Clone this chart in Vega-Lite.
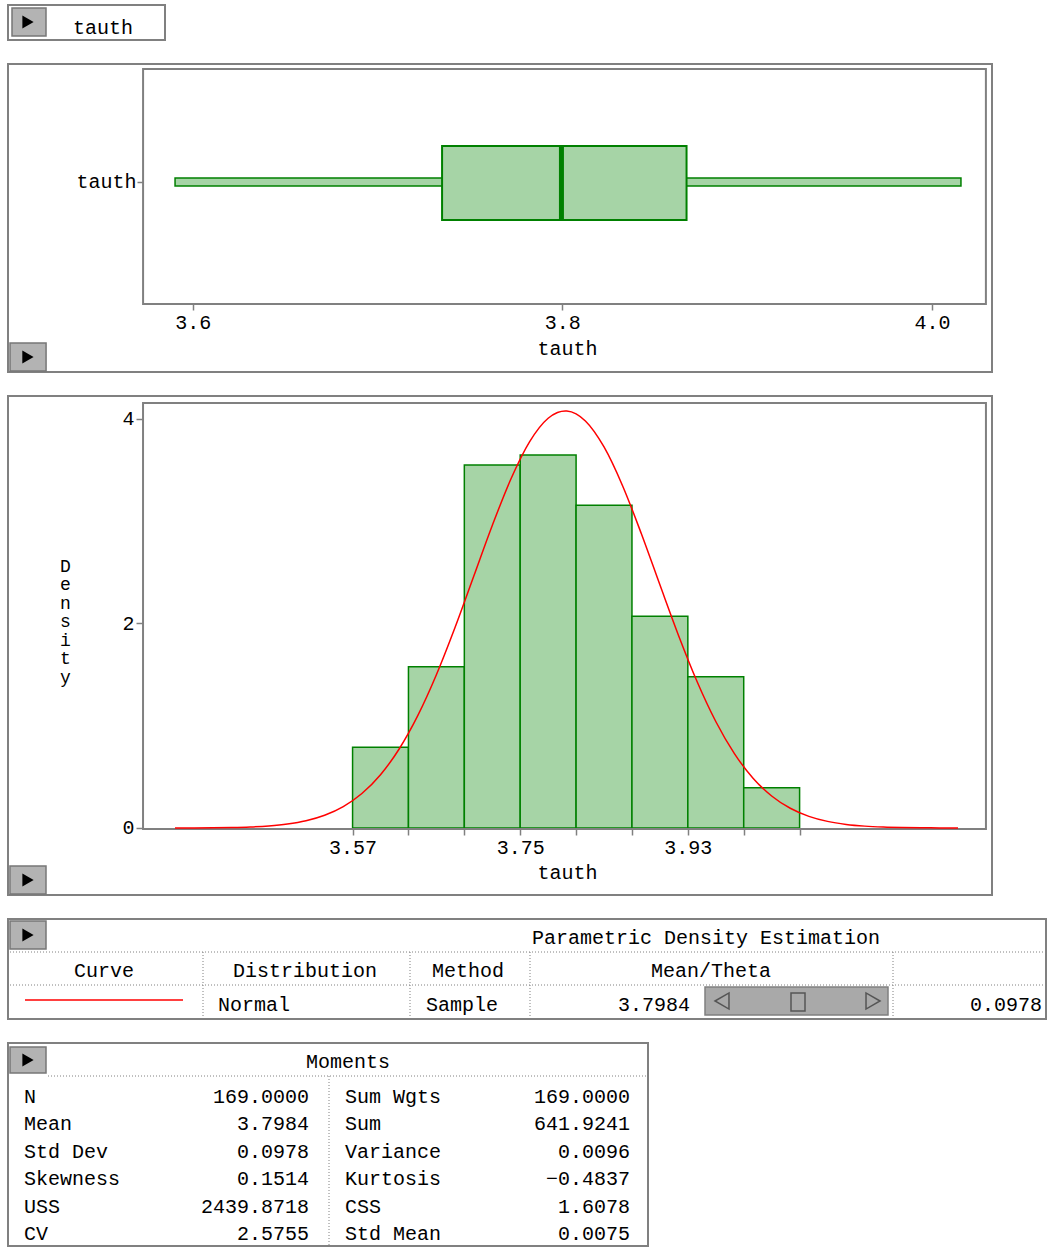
{
  "$schema": "https://vega.github.io/schema/vega-lite/v6.json",
  "background": "white",
  "padding": {"left": 7, "top": 4, "right": 0, "bottom": 0},
  "bounds": "flush",
  "spacing": 24,
  "config": {
    "view": {"stroke": "#808080", "strokeWidth": 2},
    "text": {"font": "Liberation Mono", "fontSize": 20, "color": "black"},
    "axis": {"labelFont": "Liberation Mono", "titleFont": "Liberation Mono", "labelFontSize": 20, "titleFontSize": 20, "titleFontWeight": "normal", "labelColor": "black", "titleColor": "black", "tickColor": "#808080", "tickWidth": 1.5, "domain": false, "grid": false, "labelFlush": false, "labelOverlap": false}
  },
  "vconcat": [
    {
      "width": 157, "height": 35,
      "data": {"values": [{"name": "tauth"}]},
      "layer": [
        {"mark": {"type": "rect", "fill": "#b3b3b3", "stroke": "#777777", "strokeWidth": 1.5},
         "encoding": {
           "x": {"datum": 4, "type": "quantitative", "scale": {"domain": [0, 157], "nice": false, "zero": false}, "axis": null},
           "x2": {"datum": 38},
           "y": {"datum": 3, "type": "quantitative", "scale": {"domain": [0, 35], "reverse": true, "nice": false, "zero": false}, "axis": null},
           "y2": {"datum": 31}}},
        {"mark": {"type": "point", "shape": "triangle-right", "filled": true, "color": "black", "opacity": 1, "size": 170},
         "encoding": {"x": {"datum": 20, "type": "quantitative", "axis": null}, "y": {"datum": 17, "type": "quantitative", "axis": null}}},
        {"mark": {"type": "text", "align": "center", "baseline": "alphabetic"},
         "encoding": {"text": {"field": "name"}, "x": {"datum": 95, "type": "quantitative", "axis": null}, "y": {"datum": 29, "type": "quantitative", "axis": null}}}
      ]
    },
    {
      "width": 984, "height": 308,
      "data": {"values": [{"variable": "tauth", "min": 3.5904, "q1": 3.7349, "median": 3.7995, "q3": 3.8672, "max": 4.0157}]},
      "layer": [
        {"mark": {"type": "rect", "fill": "#a6d4a6", "stroke": "#008000", "strokeWidth": 1.5},
         "encoding": {
           "x": {"field": "min", "type": "quantitative", "scale": {"domain": [3.5, 4.0325], "nice": false, "zero": false},
                 "axis": {"orient": "bottom", "offset": -68, "values": [3.6, 3.8, 4.0], "format": ".1f", "tickSize": 6, "labelPadding": 2, "title": "tauth", "titleX": 559, "titleY": 44, "titleBaseline": "middle", "titleAlign": "center"}},
           "x2": {"field": "max"},
           "y": {"datum": 0.6039, "type": "quantitative", "scale": {"domain": [0, 1], "nice": false, "zero": false},
                 "axis": {"orient": "left", "offset": -135, "values": [0.617], "labelExpr": "'tauth'", "tickSize": 6, "labelPadding": 1, "title": null}},
           "y2": {"datum": 0.6299}}},
        {"mark": {"type": "rect", "fill": "#a6d4a6", "stroke": "#008000", "strokeWidth": 2},
         "encoding": {
           "x": {"field": "q1", "type": "quantitative"},
           "x2": {"field": "q3"},
           "y": {"datum": 0.4935, "type": "quantitative"},
           "y2": {"datum": 0.7338}}},
        {"mark": {"type": "rule", "color": "#008000", "strokeWidth": 5},
         "encoding": {
           "x": {"field": "median", "type": "quantitative"},
           "y": {"datum": 0.4935, "type": "quantitative"},
           "y2": {"datum": 0.7338}}},
        {"mark": {"type": "rect", "fill": "transparent", "stroke": "#808080", "strokeWidth": 2},
         "encoding": {
           "x": {"datum": 3.5731, "type": "quantitative"},
           "x2": {"datum": 4.0292},
           "y": {"datum": 0.2208, "type": "quantitative"},
           "y2": {"datum": 0.9838}}},
        {"mark": {"type": "rect", "fill": "#b3b3b3", "stroke": "#777777", "strokeWidth": 1.5},
         "encoding": {
           "x": {"datum": 3.5011, "type": "quantitative"},
           "x2": {"datum": 3.5206},
           "y": {"datum": 0.003, "type": "quantitative"},
           "y2": {"datum": 0.094}}},
        {"mark": {"type": "point", "shape": "triangle-right", "filled": true, "color": "black", "opacity": 1, "size": 170},
         "encoding": {"x": {"datum": 3.5108, "type": "quantitative"}, "y": {"datum": 0.0487, "type": "quantitative"}}}
      ]
    },
    {
      "width": 984, "height": 499,
      "layer": [
        {"data": {"values": [
           {"bin_start": 3.57, "bin_end": 3.63, "density": 0.789},
           {"bin_start": 3.63, "bin_end": 3.69, "density": 1.578},
           {"bin_start": 3.69, "bin_end": 3.75, "density": 3.550},
           {"bin_start": 3.75, "bin_end": 3.81, "density": 3.649},
           {"bin_start": 3.81, "bin_end": 3.87, "density": 3.156},
           {"bin_start": 3.87, "bin_end": 3.93, "density": 2.071},
           {"bin_start": 3.93, "bin_end": 3.99, "density": 1.479},
           {"bin_start": 3.99, "bin_end": 4.05, "density": 0.394}]},
         "mark": {"type": "rect", "fill": "#a6d4a6", "stroke": "#008000", "strokeWidth": 1.5},
         "encoding": {
           "x": {"field": "bin_start", "type": "quantitative", "scale": {"domain": [3.2, 4.2566], "nice": false, "zero": false},
                 "axis": {"orient": "bottom", "offset": -66, "values": [3.57, 3.63, 3.69, 3.75, 3.81, 3.87, 3.93, 3.99, 4.05], "labelExpr": "(abs(datum.value-3.57)<0.001 || abs(datum.value-3.75)<0.001 || abs(datum.value-3.93)<0.001) ? format(datum.value,'.2f') : ''", "tickSize": 6, "labelPadding": 2, "title": "tauth", "titleX": 559, "titleY": 43, "titleBaseline": "middle", "titleAlign": "center"}},
           "x2": {"field": "bin_end"},
           "y": {"field": "density", "type": "quantitative", "scale": {"domain": [-0.6553, 4.2249], "nice": false, "zero": false},
                 "axis": {"orient": "left", "offset": -135, "values": [0, 2, 4], "format": "d", "tickSize": 7, "labelPadding": 2, "title": ["D", "e", "n", "s", "i", "t", "y"], "titleAngle": 0, "titleX": -78, "titleY": 170, "titleAlign": "center", "titleBaseline": "middle", "titleFontSize": 18, "titleLineHeight": 18.5}},
           "y2": {"datum": 0}}},
        {"data": {"values": [{}]},
         "mark": {"type": "rect", "fill": "transparent", "stroke": "#808080", "strokeWidth": 2},
         "encoding": {
           "x": {"datum": 3.345, "type": "quantitative"},
           "x2": {"datum": 4.2501},
           "y": {"datum": -0.01, "type": "quantitative"},
           "y2": {"datum": 4.156}}},
        {"data": {"values": [
           {"x": 3.3793, "pdf": 0.0004}, {"x": 3.40, "pdf": 0.0010}, {"x": 3.42, "pdf": 0.0023}, {"x": 3.44, "pdf": 0.0049},
           {"x": 3.46, "pdf": 0.0103}, {"x": 3.48, "pdf": 0.0204}, {"x": 3.50, "pdf": 0.0388}, {"x": 3.52, "pdf": 0.0709},
           {"x": 3.54, "pdf": 0.1244}, {"x": 3.56, "pdf": 0.2091}, {"x": 3.58, "pdf": 0.3371}, {"x": 3.60, "pdf": 0.5212},
           {"x": 3.62, "pdf": 0.7728}, {"x": 3.64, "pdf": 1.0989}, {"x": 3.66, "pdf": 1.4988}, {"x": 3.68, "pdf": 1.9603},
           {"x": 3.70, "pdf": 2.4591}, {"x": 3.72, "pdf": 2.9583}, {"x": 3.74, "pdf": 3.4131}, {"x": 3.76, "pdf": 3.7766},
           {"x": 3.78, "pdf": 4.0076}, {"x": 3.79, "pdf": 4.0642}, {"x": 3.7984, "pdf": 4.0792}, {"x": 3.80, "pdf": 4.0786},
           {"x": 3.81, "pdf": 4.0506}, {"x": 3.82, "pdf": 3.9809}, {"x": 3.84, "pdf": 3.7264}, {"x": 3.86, "pdf": 3.3452},
           {"x": 3.88, "pdf": 2.8802}, {"x": 3.90, "pdf": 2.3781}, {"x": 3.92, "pdf": 1.8831}, {"x": 3.94, "pdf": 1.4302},
           {"x": 3.96, "pdf": 1.0417}, {"x": 3.98, "pdf": 0.7276}, {"x": 4.00, "pdf": 0.4873}, {"x": 4.02, "pdf": 0.3132},
           {"x": 4.04, "pdf": 0.1929}, {"x": 4.06, "pdf": 0.1140}, {"x": 4.08, "pdf": 0.0646}, {"x": 4.10, "pdf": 0.0351},
           {"x": 4.12, "pdf": 0.0183}, {"x": 4.14, "pdf": 0.0092}, {"x": 4.16, "pdf": 0.0044}, {"x": 4.18, "pdf": 0.0020},
           {"x": 4.20, "pdf": 0.0009}, {"x": 4.2201, "pdf": 0.0004}]},
         "mark": {"type": "line", "color": "#ff0000", "strokeWidth": 1.5, "interpolate": "monotone"},
         "encoding": {
           "x": {"field": "x", "type": "quantitative"},
           "y": {"field": "pdf", "type": "quantitative"}}},
        {"data": {"values": [{}]},
         "mark": {"type": "rect", "fill": "#b3b3b3", "stroke": "#777777", "strokeWidth": 1.5},
         "encoding": {
           "x": {"datum": 3.2021, "type": "quantitative"},
           "x2": {"datum": 3.2408},
           "y": {"datum": -0.6455, "type": "quantitative"},
           "y2": {"datum": -0.3716}}},
        {"data": {"values": [{}]},
         "mark": {"type": "point", "shape": "triangle-right", "filled": true, "color": "black", "opacity": 1, "size": 170},
         "encoding": {"x": {"datum": 3.2215, "type": "quantitative"}, "y": {"datum": -0.5086, "type": "quantitative"}}}
      ]
    },
    {
      "width": 1038, "height": 100,
      "data": {"values": [{}]},
      "layer": [
        {"mark": {"type": "rect", "fill": "#b3b3b3", "stroke": "#777777", "strokeWidth": 1.5},
         "encoding": {
           "x": {"datum": 2, "type": "quantitative", "scale": {"domain": [0, 1038], "nice": false, "zero": false}, "axis": null},
           "x2": {"datum": 38},
           "y": {"datum": 2, "type": "quantitative", "scale": {"domain": [0, 100], "reverse": true, "nice": false, "zero": false}, "axis": null},
           "y2": {"datum": 30}}},
        {"mark": {"type": "point", "shape": "triangle-right", "filled": true, "color": "black", "opacity": 1, "size": 170},
         "encoding": {"x": {"datum": 20, "type": "quantitative", "axis": null}, "y": {"datum": 16, "type": "quantitative", "axis": null}}},
        {"mark": {"type": "text", "align": "left", "baseline": "alphabetic", "text": "Parametric Density Estimation"},
         "encoding": {"x": {"datum": 524, "type": "quantitative", "axis": null}, "y": {"datum": 25, "type": "quantitative", "axis": null}}},
        {"mark": {"type": "rule", "color": "#808080", "strokeWidth": 1, "strokeDash": [1, 2]},
         "encoding": {"x": {"datum": 2, "type": "quantitative", "axis": null}, "x2": {"datum": 1038}, "y": {"datum": 33, "type": "quantitative", "axis": null}}},
        {"mark": {"type": "rule", "color": "#808080", "strokeWidth": 1, "strokeDash": [1, 2]},
         "encoding": {"x": {"datum": 2, "type": "quantitative", "axis": null}, "x2": {"datum": 1038}, "y": {"datum": 66, "type": "quantitative", "axis": null}}},
        {"mark": {"type": "rule", "color": "#808080", "strokeWidth": 1, "strokeDash": [1, 2]},
         "encoding": {"x": {"datum": 195, "type": "quantitative", "axis": null}, "y": {"datum": 33, "type": "quantitative", "axis": null}, "y2": {"datum": 100}}},
        {"mark": {"type": "rule", "color": "#808080", "strokeWidth": 1, "strokeDash": [1, 2]},
         "encoding": {"x": {"datum": 402, "type": "quantitative", "axis": null}, "y": {"datum": 33, "type": "quantitative", "axis": null}, "y2": {"datum": 100}}},
        {"mark": {"type": "rule", "color": "#808080", "strokeWidth": 1, "strokeDash": [1, 2]},
         "encoding": {"x": {"datum": 522, "type": "quantitative", "axis": null}, "y": {"datum": 33, "type": "quantitative", "axis": null}, "y2": {"datum": 100}}},
        {"mark": {"type": "rule", "color": "#808080", "strokeWidth": 1, "strokeDash": [1, 2]},
         "encoding": {"x": {"datum": 885, "type": "quantitative", "axis": null}, "y": {"datum": 33, "type": "quantitative", "axis": null}, "y2": {"datum": 100}}},
        {"mark": {"type": "text", "align": "center", "baseline": "alphabetic", "text": "Curve"},
         "encoding": {"x": {"datum": 96, "type": "quantitative", "axis": null}, "y": {"datum": 58, "type": "quantitative", "axis": null}}},
        {"mark": {"type": "text", "align": "center", "baseline": "alphabetic", "text": "Distribution"},
         "encoding": {"x": {"datum": 297, "type": "quantitative", "axis": null}, "y": {"datum": 58, "type": "quantitative", "axis": null}}},
        {"mark": {"type": "text", "align": "center", "baseline": "alphabetic", "text": "Method"},
         "encoding": {"x": {"datum": 460, "type": "quantitative", "axis": null}, "y": {"datum": 58, "type": "quantitative", "axis": null}}},
        {"mark": {"type": "text", "align": "center", "baseline": "alphabetic", "text": "Mean/Theta"},
         "encoding": {"x": {"datum": 703, "type": "quantitative", "axis": null}, "y": {"datum": 58, "type": "quantitative", "axis": null}}},
        {"mark": {"type": "rule", "color": "#ff0000", "strokeWidth": 1.5},
         "encoding": {"x": {"datum": 17, "type": "quantitative", "axis": null}, "x2": {"datum": 175}, "y": {"datum": 81, "type": "quantitative", "axis": null}}},
        {"mark": {"type": "rect", "fill": "#a9a9a9", "stroke": "#808080", "strokeWidth": 1.5},
         "encoding": {"x": {"datum": 697, "type": "quantitative", "axis": null}, "x2": {"datum": 880}, "y": {"datum": 68, "type": "quantitative", "axis": null}, "y2": {"datum": 96}}},
        {"mark": {"type": "point", "shape": "triangle-left", "filled": false, "stroke": "#555555", "strokeWidth": 1.5, "opacity": 1, "size": 260},
         "encoding": {"x": {"datum": 714, "type": "quantitative", "axis": null}, "y": {"datum": 82, "type": "quantitative", "axis": null}}},
        {"mark": {"type": "rect", "fill": "#a9a9a9", "stroke": "#555555", "strokeWidth": 1.5},
         "encoding": {"x": {"datum": 783, "type": "quantitative", "axis": null}, "x2": {"datum": 797}, "y": {"datum": 74, "type": "quantitative", "axis": null}, "y2": {"datum": 92}}},
        {"mark": {"type": "point", "shape": "triangle-right", "filled": false, "stroke": "#555555", "strokeWidth": 1.5, "opacity": 1, "size": 260},
         "encoding": {"x": {"datum": 865, "type": "quantitative", "axis": null}, "y": {"datum": 82, "type": "quantitative", "axis": null}}},
        {"data": {"values": [{"distribution": "Normal", "method": "Sample", "mean": 3.7984, "sigma": 0.0978}]},
         "layer": [
           {"mark": {"type": "text", "align": "left", "baseline": "alphabetic"},
            "encoding": {"text": {"field": "distribution"}, "x": {"datum": 210, "type": "quantitative", "axis": null}, "y": {"datum": 92, "type": "quantitative", "axis": null}}},
           {"mark": {"type": "text", "align": "left", "baseline": "alphabetic"},
            "encoding": {"text": {"field": "method"}, "x": {"datum": 418, "type": "quantitative", "axis": null}, "y": {"datum": 92, "type": "quantitative", "axis": null}}},
           {"mark": {"type": "text", "align": "right", "baseline": "alphabetic"},
            "encoding": {"text": {"field": "mean", "format": ".4f"}, "x": {"datum": 682, "type": "quantitative", "axis": null}, "y": {"datum": 92, "type": "quantitative", "axis": null}}},
           {"mark": {"type": "text", "align": "right", "baseline": "alphabetic"},
            "encoding": {"text": {"field": "sigma", "format": ".4f"}, "x": {"datum": 1034, "type": "quantitative", "axis": null}, "y": {"datum": 92, "type": "quantitative", "axis": null}}}
         ]}
      ]
    },
    {
      "width": 640, "height": 203,
      "data": {"values": [
        {"row": 1, "l1": "N", "v1": 169.0, "l2": "Sum Wgts", "v2": 169.0},
        {"row": 2, "l1": "Mean", "v1": 3.7984, "l2": "Sum", "v2": 641.9241},
        {"row": 3, "l1": "Std Dev", "v1": 0.0978, "l2": "Variance", "v2": 0.0096},
        {"row": 4, "l1": "Skewness", "v1": 0.1514, "l2": "Kurtosis", "v2": -0.4837},
        {"row": 5, "l1": "USS", "v1": 2439.8718, "l2": "CSS", "v2": 1.6078},
        {"row": 6, "l1": "CV", "v1": 2.5755, "l2": "Std Mean", "v2": 0.0075}]},
      "layer": [
        {"mark": {"type": "text", "align": "left", "baseline": "alphabetic"},
         "encoding": {"text": {"field": "l1"},
           "x": {"datum": 16, "type": "quantitative", "scale": {"domain": [0, 640], "nice": false, "zero": false}, "axis": null},
           "y": {"field": "row", "type": "quantitative", "scale": {"domain": [-1.1898, 6.219], "reverse": true, "nice": false, "zero": false}, "axis": null}}},
        {"mark": {"type": "text", "align": "right", "baseline": "alphabetic"},
         "encoding": {"text": {"field": "v1", "format": ".4f"}, "x": {"datum": 301, "type": "quantitative", "axis": null}, "y": {"field": "row", "type": "quantitative", "axis": null}}},
        {"mark": {"type": "text", "align": "left", "baseline": "alphabetic"},
         "encoding": {"text": {"field": "l2"}, "x": {"datum": 337, "type": "quantitative", "axis": null}, "y": {"field": "row", "type": "quantitative", "axis": null}}},
        {"mark": {"type": "text", "align": "right", "baseline": "alphabetic"},
         "encoding": {"text": {"field": "v2", "format": ".4f"}, "x": {"datum": 622, "type": "quantitative", "axis": null}, "y": {"field": "row", "type": "quantitative", "axis": null}}},
        {"data": {"values": [{}]},
         "layer": [
           {"mark": {"type": "text", "align": "center", "baseline": "alphabetic", "text": "Moments"},
            "encoding": {"x": {"datum": 340, "type": "quantitative", "axis": null}, "y": {"datum": -0.28, "type": "quantitative", "axis": null}}},
           {"mark": {"type": "rule", "color": "#808080", "strokeWidth": 1, "strokeDash": [1, 2]},
            "encoding": {"x": {"datum": 40, "type": "quantitative", "axis": null}, "x2": {"datum": 640}, "y": {"datum": 0.0146, "type": "quantitative", "axis": null}}},
           {"mark": {"type": "rule", "color": "#808080", "strokeWidth": 1, "strokeDash": [1, 2]},
            "encoding": {"x": {"datum": 321, "type": "quantitative", "axis": null}, "y": {"datum": 0.0146, "type": "quantitative", "axis": null}, "y2": {"datum": 6.219}}},
           {"mark": {"type": "rect", "fill": "#b3b3b3", "stroke": "#777777", "strokeWidth": 1.5},
            "encoding": {"x": {"datum": 2, "type": "quantitative", "axis": null}, "x2": {"datum": 38}, "y": {"datum": -1.044, "type": "quantitative", "axis": null}, "y2": {"datum": -0.0949}}},
           {"mark": {"type": "point", "shape": "triangle-right", "filled": true, "color": "black", "opacity": 1, "size": 170},
            "encoding": {"x": {"datum": 20, "type": "quantitative", "axis": null}, "y": {"datum": -0.569, "type": "quantitative", "axis": null}}}
         ]}
      ]
    }
  ]
}
